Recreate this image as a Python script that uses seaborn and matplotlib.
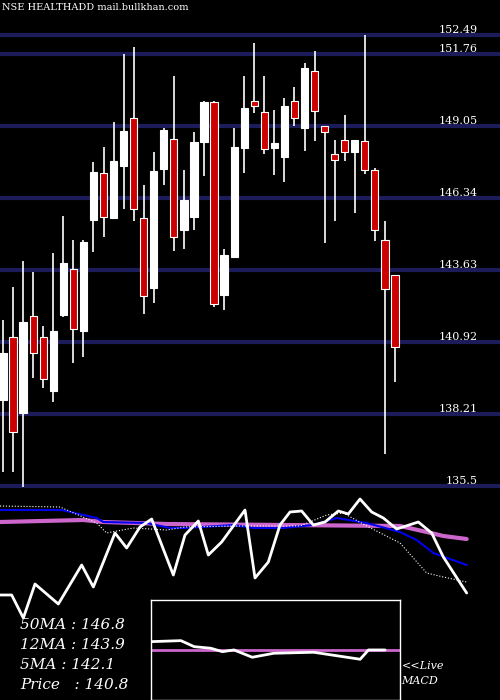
import matplotlib
matplotlib.use("Agg")
import matplotlib.pyplot as plt
import seaborn as sns
import numpy as np
import pandas as pd

sns.set_theme(style="dark")
plt.rcParams['font.family'] = ['DejaVu Serif']

opens  = [138.75,141.12,138.26,141.91,141.12,139.09,141.95,143.68,141.35,145.53,
          147.30,145.60,147.56,149.37,145.60,142.97,147.45,148.58,145.15,145.64,
          148.46,149.97,142.70,144.13,148.24,150.01,149.59,148.24,147.90,150.01,
          148.99,151.13,149.06,148.01,148.54,148.09,148.50,147.41,144.77,143.46]
closes = [140.52,137.55,141.69,140.52,139.54,141.35,143.91,141.42,144.70,147.33,
          145.64,147.75,148.88,145.94,142.67,147.37,148.91,144.89,146.28,148.46,
          149.97,142.36,144.21,148.27,149.74,149.82,148.20,148.42,149.82,149.37,
          151.25,149.63,148.84,147.78,148.09,148.54,147.41,145.15,142.93,140.75]
highs  = [141.76,143.00,143.98,143.57,141.54,144.28,145.68,144.77,144.77,147.71,
          148.27,149.22,151.77,152.04,146.84,148.09,149.00,150.95,147.41,148.84,
          150.00,150.00,144.44,148.99,150.95,152.19,150.95,149.67,150.12,150.53,
          151.44,151.89,149.06,148.54,149.48,148.54,152.49,147.48,145.49,143.46]
lows   = [136.04,136.04,135.48,139.58,139.20,138.68,141.88,140.14,140.37,144.32,
          144.89,145.56,145.94,145.49,141.99,142.40,146.84,144.36,144.44,145.15,
          147.18,142.25,142.14,144.13,147.30,149.55,148.01,147.22,146.96,149.06,
          148.12,148.50,144.66,145.49,147.75,145.79,147.26,144.74,136.72,139.43]
price_levels = [152.49,151.76,149.05,146.34,143.63,140.92,138.21,135.5]

osc_x = [0,35,70,105,175,245,280,345,380,420,455,520,555,595,625,665,735,765,805,840,
         870,905,940,975,1015,1045,1080,1115,1150,1190,1255,1295,1330,1365,1400]
osc_v = [5,5,-18,16,-4,35,13,67,52,73,81,25,65,79,45,58,90,22,38,75,
         88,89,75,78,89,86,101,88,82,71,78,67,43,25,7]
blue_x = [0,185,290,310,440,510,560,700,760,850,940,1010,1100,1200,1250,1300,1400]
blue_v = [90,90,82,78,77,72,72,75,72,72,75,82,77,68,60,47,35]
mag_x = [0,250,310,500,1200,1280,1330,1400]
mag_v = [78,80,78,76,74,68,64,61]
dot_x = [0,180,290,320,400,500,555,700,900,980,1030,1100,1200,1280,1330,1400]
dot_v = [94,93,77,67,72,70,73,74,74,85,87,74,57,27,23,18]
macd_x = [450,540,580,630,665,700,755,820,940,1080,1105,1155]
macd_v = [8.3,9.3,3.3,1.7,-1.7,0,-7.3,-3.3,-2.3,-9.3,0,0]
signal_v = 0.0

fig = plt.figure(figsize=(5,7), dpi=100, facecolor='black')
ax = fig.add_axes([0,0.3,1,0.7])
ax.set_facecolor('black')
n = len(opens)
idx = np.arange(n)
df = pd.DataFrame(dict(i=idx, o=opens, c=closes, h=highs, l=lows))
px_per_unit = 10.05
ax.set_xlim(-0.3, 500/px_per_unit - 0.3)
ax.set_ylim(135.36, 153.81)
for lv in price_levels:
    ax.axhline(lv, color='#1c1c5a', lw=3, zorder=1)
    ax.text(0.955, lv, f"{lv:g}" if lv != 135.5 else "135.5", transform=ax.get_yaxis_transform(),
            ha='right', va='bottom', color='white', fontsize=8)
for r in df.itertuples():
    up = r.c >= r.o
    ax.vlines(r.i, r.l, r.h, color='white', lw=1.2, zorder=2)
    b = min(r.o, r.c); hgt = max(abs(r.c - r.o), 0.15)
    ax.bar(r.i, hgt, bottom=b, width=0.72, color='white' if up else '#cc0000',
           edgecolor='white', linewidth=0.8, zorder=3)
ax.set_xticks([]); ax.set_yticks([])
for s in ax.spines.values(): s.set_visible(False)
ax.text(0.005, 0.994, "NSE HEALTHADD mail.bullkhan.com", transform=ax.transAxes,
        color='white', fontsize=7, va='top', ha='left')

ax2 = fig.add_axes([0,0,1,0.3])
ax2.set_facecolor('black')
ax2.set_xlim(0,1500); ax2.set_ylim(-100,110)
ax2.set_xticks([]); ax2.set_yticks([])
for s in ax2.spines.values(): s.set_visible(False)
sns.lineplot(x=mag_x, y=mag_v, ax=ax2, color='#cc66cc', lw=3)
sns.lineplot(x=blue_x, y=blue_v, ax=ax2, color='#0000ee', lw=1.5)
sns.lineplot(x=dot_x, y=dot_v, ax=ax2, color='white', lw=0.8, linestyle=':')
sns.lineplot(x=osc_x, y=osc_v, ax=ax2, color='white', lw=2)
labels = ["50MA : 146.8", "12MA : 143.9", "5MA : 142.1", "Price   : 140.8"]
for k, t in enumerate(labels):
    ax2.text(60, -25 - k*20, t, color='white', fontsize=11, style='italic', va='center')
ax2.text(1205, -66, "<<Live", color='white', fontsize=8, style='italic', va='center')
ax2.text(1205, -81, "MACD", color='white', fontsize=8, style='italic', va='center')

ax3 = fig.add_axes([0.302, 0.0, 0.498, 0.143])
ax3.set_facecolor('black')
ax3.set_xlim(450,1200); ax3.set_ylim(-50,50)
ax3.set_xticks([]); ax3.set_yticks([])
for s in ax3.spines.values(): s.set_color('white'); s.set_linewidth(1)
ax3.axhline(signal_v, color='#cc66cc', lw=2)
sns.lineplot(x=macd_x, y=macd_v, ax=ax3, color='white', lw=2)

fig.savefig("out.png", dpi=100, facecolor='black')
